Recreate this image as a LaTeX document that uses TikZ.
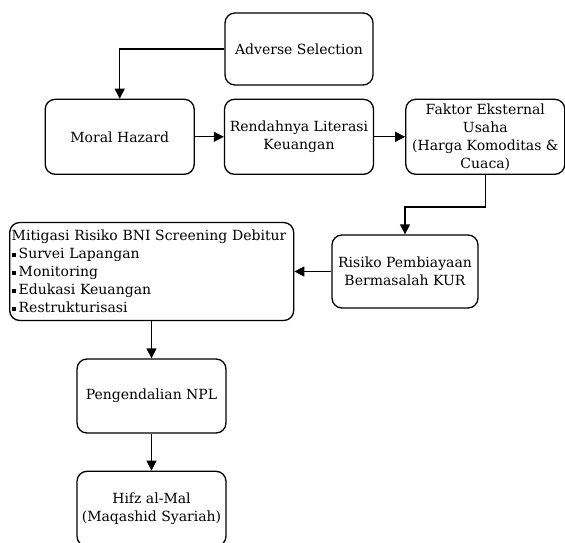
\documentclass[tikz,border=0pt]{standalone}
\usepackage{fontspec}
\setmainfont{DejaVu Serif}
\usetikzlibrary{positioning}
\usetikzlibrary{arrows.meta}
\tikzset{blok/.style={draw, rounded corners=10pt, align=center,
    minimum width=149pt, minimum height=75pt, inner sep=2pt,
    font=\fontsize{14}{18}\selectfont},
  panah/.style={draw, -{Triangle[length=10pt,width=10pt]}}}
\newcommand{\kotak}{\raisebox{0.3ex}{\rule{4pt}{4pt}}\hspace{3pt}}

\begin{document}
\begin{tikzpicture}[x=1pt,y=1pt,line width=1.3pt]
  \useasboundingbox (0,0) rectangle (565,542);
  \node[blok, minimum width=148pt, minimum height=72pt] (adv) at (299,493) {Adverse Selection};
  \node[blok] (rend) [below=13pt of adv] {Rendahnya Literasi\\Keuangan};
  \node[blok] (moral) [left=29pt of rend] {Moral Hazard};
  \node[blok, minimum width=159pt] (faktor) [right=31pt of rend] {Faktor Eksternal\\Usaha\\(Harga Komoditas \&\\Cuaca)};
  \node[blok, minimum width=146pt, minimum height=73pt] (risiko) at (405,270.5) {Risiko Pembiayaan\\Bermasalah KUR};
  \node[blok, text width=280pt, minimum height=98pt, align=left] (mitig) [left=37pt of risiko]
    {Mitigasi Risiko BNI Screening Debitur\\\kotak Survei Lapangan\\\kotak Monitoring\\\kotak Edukasi Keuangan\\\kotak Restrukturisasi};
  \node[blok, minimum height=74pt] (npl) at (151.5,146) {Pengendalian NPL};
  \node[blok] (hifz) [below=37pt of npl] {Hifz al-Mal\\(Maqashid Syariah)};

  \path[panah] (adv.west) -| (moral.north);
  \path[panah] (moral) -- (rend);
  \path[panah] (rend) -- (faktor);
  \path[panah] (faktor.south) -- ++(0,-32pt) -| (risiko.north);
  \path[panah] (risiko) -- (mitig);
  \path[panah] (mitig.south -| npl.north) -- (npl.north);
  \path[panah] (npl) -- (hifz);
\end{tikzpicture}
\end{document}
